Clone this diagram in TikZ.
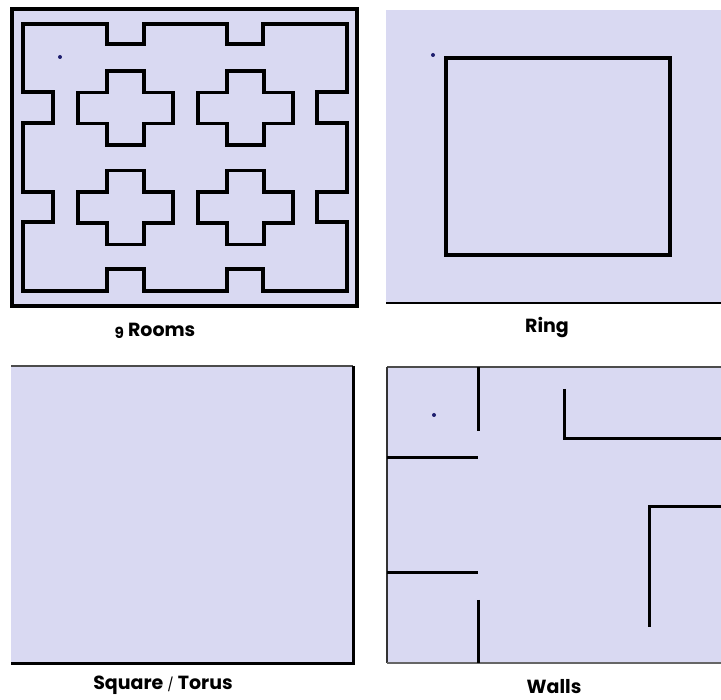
\documentclass[tikz,border=0pt]{standalone}
\usepackage{fontspec}
\newfontfamily\labfont{Poppins}[BoldFont=* Bold]
\definecolor{lav}{RGB}{217,217,242}
\definecolor{dotblue}{RGB}{30,30,110}
\begin{document}
\begin{tikzpicture}[x=1pt,y=-1pt,
  wall/.style={line width=3.6pt, line join=miter, line cap=rect},
  thinwall/.style={line width=3pt, line cap=butt},
  lab/.style={font=\labfont\bfseries\fontsize{19}{22}\selectfont, inner sep=0pt, text=black},
  agent/.style={fill=dotblue},
  crossroom/.pic={\draw[wall] (-18.5,-37) -- (18.5,-37) -- (18.5,-15.5) -- (47.5,-15.5) -- (47.5,15.5) -- (18.5,15.5) -- (18.5,37) -- (-18.5,37) -- (-18.5,15.5) -- (-47.5,15.5) -- (-47.5,-15.5) -- (-18.5,-15.5) -- cycle;}]
\useasboundingbox (0,0) rectangle (721,700);
% ---- 9 Rooms ----
\fill[lav] (12,9) rectangle (357,306);
\draw[line width=3.4pt] (12,9) rectangle (357,306);
\draw[wall] (23,24) -- (107,24) -- (107,44) -- (144,44) -- (144,24) -- (227,24) -- (227,44) -- (263,44) -- (263,24) -- (347,24)
  -- (347,92) -- (317,92) -- (317,123) -- (347,123) -- (347,192) -- (317,192) -- (317,222) -- (347,222) -- (347,291)
  -- (263,291) -- (263,269) -- (227,269) -- (227,291) -- (144,291) -- (144,269) -- (107,269) -- (107,291) -- (23,291)
  -- (23,222) -- (53,222) -- (53,192) -- (23,192) -- (23,123) -- (53,123) -- (53,92) -- (23,92) -- cycle;
\pic at (125.5,108) {crossroom};
\pic at (245.5,108) {crossroom};
\pic at (125.5,207.5) {crossroom};
\pic at (245.5,207.5) {crossroom};
\fill[agent] (60,57) circle (2);
\node[lab] (lrooms) at (155,331) {\raisebox{-0.12em}{\scalebox{0.8}{9}} Rooms};
% ---- Ring ----
\fill[lav] (386,10) rectangle (721,303);
\draw[line width=2.4pt] (386,303) -- (721,303);
\draw[wall] (446,58) rectangle (670,255);
\fill[agent] (433,55) circle (2);
\node[lab] (lring) at (547,328) {Ring};
% ---- Square / Torus ----
\fill[lav] (11,366) rectangle (353,663);
\draw[line width=1.2pt, black!70] (11,366) -- (353,366);
\draw[line width=3pt, line join=miter] (353,366) -- (353,663) -- (11,663);
\node[lab] (lsq) at (163,685) {Square {\mdseries\scalebox{0.7}{/}} Torus};
% ---- Walls ----
\fill[lav] (387,367) rectangle (721,663);
\draw[line width=1.2pt, black!70] (387,367) -- (721,367);
\draw[line width=1.8pt, black!80] (387,367) -- (387,663);
\draw[line width=1.8pt, black!60] (387,663) -- (721,663);
\draw[thinwall] (478,367) -- (478,431);
\draw[thinwall] (387,458) -- (478,458);
\draw[thinwall] (387,573) -- (478,573);
\draw[thinwall] (478,600) -- (478,663);
\draw[thinwall, line join=miter] (564,389) -- (564,439) -- (721,439);
\draw[thinwall, line join=miter] (721,507) -- (649,507) -- (649,627);
\fill[agent] (434,415) circle (2);
\node[lab] (lwalls) at (554,687) {Walls};
\end{tikzpicture}
\end{document}
